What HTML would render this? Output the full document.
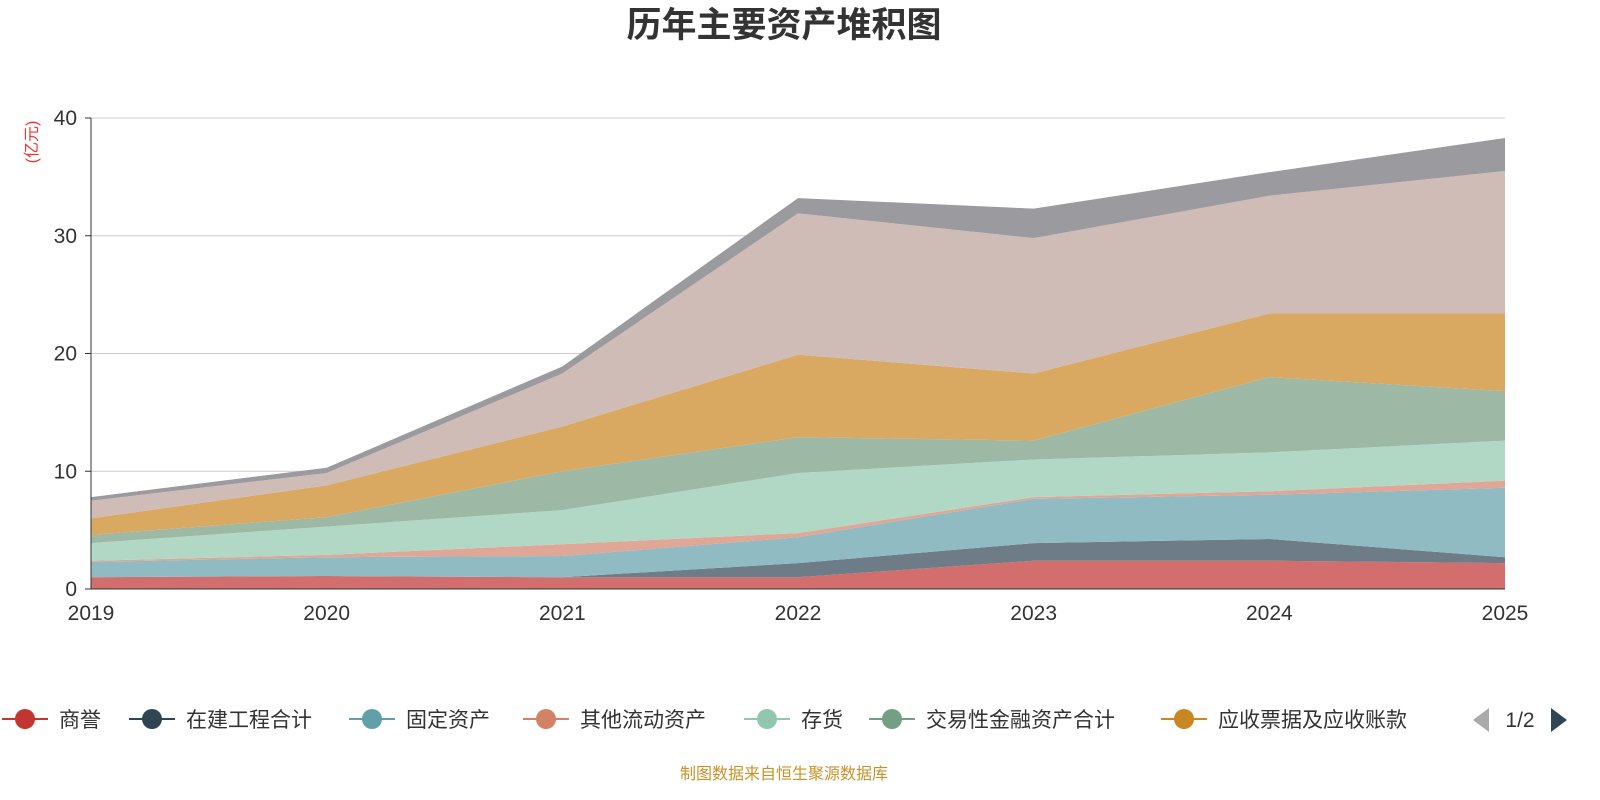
<!DOCTYPE html>
<html><head><meta charset="utf-8"><style>
body{margin:0;background:#fff;}
svg{display:block;font-family:"Liberation Sans","Noto Sans CJK SC",sans-serif;}
</style></head><body>
<svg id="c" width="1600" height="800">
<text x="784" y="37" text-anchor="middle" font-size="35" font-weight="bold" fill="#333">历年主要资产堆积图</text>
<text transform="translate(37,142) rotate(-90)" text-anchor="middle" font-size="16" fill="#e33">(亿元)</text>
<g id="grid"></g><g id="areas"></g><g id="axes"></g><g id="legend"></g>
<text x="784" y="779" text-anchor="middle" font-size="16" fill="#c8922a">制图数据来自恒生聚源数据库</text>
</svg>
<script>
const years=["2019","2020","2021","2022","2023","2024","2025"];
const yTicks=[0,10,20,30,40];
const seriesNames=["商誉","在建工程合计","固定资产","其他流动资产","存货","交易性金融资产合计","应收票据及应收账款","货币资金","其他"];
const sGoodwill=[1.0,1.1,1.0,1.0,2.4,2.4,2.2];
const sConstruction=[0,0,0,1.2,1.5,1.85,0.5];
const sFixed=[1.3,1.6,1.8,2.2,3.75,3.75,5.9];
const sOtherCurrent=[0.1,0.2,1.0,0.35,0.15,0.3,0.6];
const sInventory=[1.5,2.4,2.9,5.1,3.2,3.3,3.4];
const sTrading=[0.7,0.8,3.3,3.05,1.6,6.4,4.2];
const sReceivable=[1.4,2.7,3.8,7.0,5.7,5.4,6.6];
const sCash=[1.5,1.05,4.5,12.0,11.5,10.0,12.1];
const sOther=[0.3,0.45,0.6,1.3,2.5,2.0,2.8];
const series=[sGoodwill,sConstruction,sFixed,sOtherCurrent,sInventory,sTrading,sReceivable,sCash,sOther];
const fills=["#d26e6d","#6e7c88","#90bbc2","#e0a696","#b1d8c5","#9db9a6","#d9a962","#d0bcb6","#9b9b9f"];
const legendColors=["#c23531","#2f4554","#61a0a8","#d48265","#91c7ae","#749f83","#ca8622"];
const NS="http://www.w3.org/2000/svg";
const X0=91,X1=1505,Y0=589,Y1=118;
const xs=i=>X0+(X1-X0)*i/(years.length-1);
const ys=v=>Y0-(Y0-Y1)*v/40;
function mk(tag,attrs,parent){const e=document.createElementNS(NS,tag);for(const k in attrs)e.setAttribute(k,attrs[k]);parent.appendChild(e);return e;}
const grid=document.getElementById('grid'),axes=document.getElementById('axes'),areas=document.getElementById('areas'),leg=document.getElementById('legend');
yTicks.forEach(t=>{
 if(t>0){const l=mk('line',{x1:X0,x2:X1,y1:ys(t),y2:ys(t),stroke:'#ccc','stroke-width':1},grid);
 
 }
 const tk=mk('line',{x1:X0-6,x2:X0,y1:ys(t),y2:ys(t),stroke:'#333'},axes);
 
 
 const tx=mk('text',{x:X0-14,y:ys(t)+7,'text-anchor':'end','font-size':21,fill:'#333'},axes);tx.textContent=t;
 
 
});
let base=years.map(()=>0);
series.forEach((s,k)=>{
 const top=base.map((b,i)=>b+s[i]);
 let d='';top.forEach((v,i)=>d+=(i?'L':'M')+xs(i)+','+ys(v));
 for(let i=years.length-1;i>=0;i--)d+='L'+xs(i)+','+ys(base[i]);
 const p=mk('path',{d:d+'Z',fill:fills[k]},areas);
 
 
 base=top;
});
const ax=mk('line',{x1:X0,x2:X0,y1:Y1,y2:Y0,stroke:'#333'},axes);


const bx=mk('line',{x1:X0,x2:X1,y1:Y0,y2:Y0,stroke:'#333'},axes);


years.forEach((y,i)=>{
 const t=mk('text',{x:xs(i),y:620,'text-anchor':'middle','font-size':21,fill:'#333'},axes);t.textContent=y;
 
 
});
const lx=[25,152,372,546,767,892,1184];
legendColors.forEach((c,i)=>{
 const g=mk('g',{},leg);
 
 
 mk('line',{x1:lx[i]-23,x2:lx[i]+23,y1:719,y2:719,stroke:c,'stroke-width':2},g);
 mk('circle',{cx:lx[i],cy:719,r:10,fill:c},g);
 const t=mk('text',{x:lx[i]+34,y:727,'font-size':21,fill:'#333'},g);t.textContent=seriesNames[i];
});
const pl=mk('path',{d:'M1489,708L1489,732L1473,720Z',fill:'#aaa'},leg);


const pt=mk('text',{x:1520,y:727,'text-anchor':'middle','font-size':21,fill:'#333'},leg);pt.textContent='1/2';


const pn=mk('path',{d:'M1551,708L1551,732L1567,720Z',fill:'#2f4554'},leg);


</script>
</body></html>
